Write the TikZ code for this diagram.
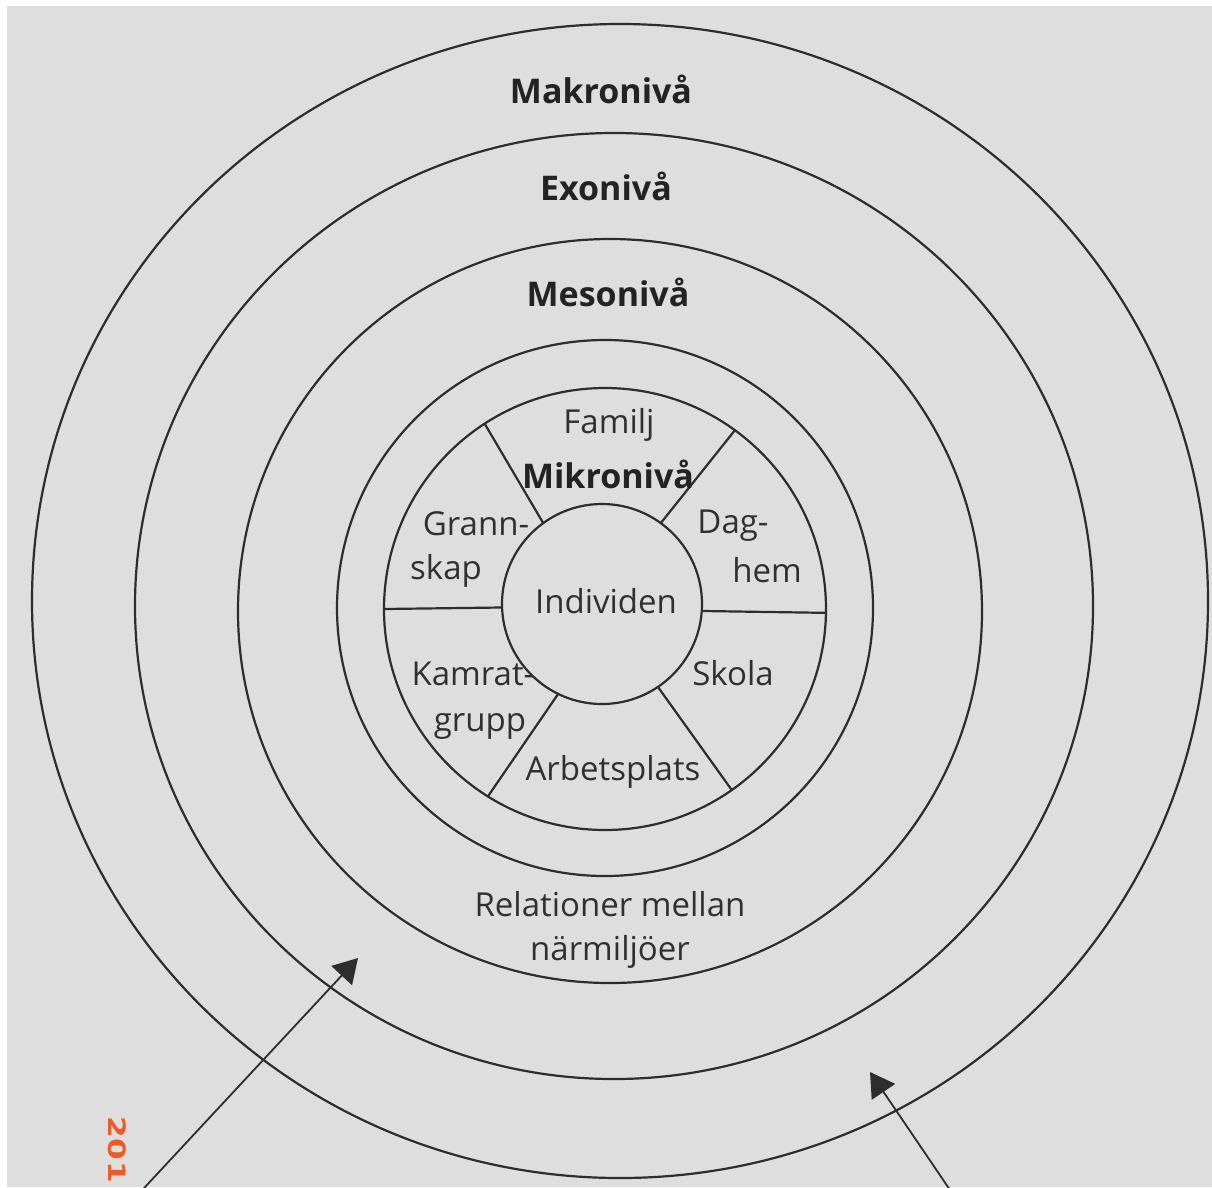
\documentclass[tikz,border=0pt]{standalone}
\usepackage{fontspec}
\setmainfont{Open Sans}
\newfontfamily\stampfont[FakeStretch=1.3,LetterSpace=4]{DejaVu Sans}
\usetikzlibrary{shapes.geometric,arrows.meta}
\definecolor{paper}{RGB}{222,222,222}
\definecolor{ink}{RGB}{45,45,45}
\definecolor{txt}{RGB}{48,48,48}
\definecolor{boldtxt}{RGB}{35,35,35}
\definecolor{stamp}{RGB}{236,92,40}
\begin{document}
\begin{tikzpicture}[x=1pt,y=-1pt,
  ring/.style={draw=ink, line width=2.2pt, inner sep=0pt, outer sep=0pt},
  spoke/.style={draw=ink, line width=2.2pt},
  lbl/.style={text=txt, font=\fontsize{33}{38}\selectfont, inner sep=0pt, anchor=base},
  lvl/.style={text=boldtxt, font=\fontsize{34}{40}\selectfont\bfseries, inner sep=0pt, anchor=base},
  arr/.style={draw=ink, line width=1.8pt, -{Triangle[length=24pt,width=28pt]}}]
\useasboundingbox (0,0) rectangle (1212,1187);
\fill[paper] (0,0) rectangle (1212,1187);
\fill[white] (0,0) rectangle (7,1187);
\fill[white] (0,0) rectangle (1212,6);

% rings
\node[ring, ellipse, minimum width=1176pt, minimum height=1154pt] (makro) at (620,601) {};
\node[ring, ellipse, minimum width=958pt, minimum height=946pt] (exo) at (614,606) {};
\node[ring, circle, minimum size=744pt] (meso) at (610,611) {};
\node[ring, circle, minimum size=536pt] (rel) at (605,608) {};
\node[ring, circle, minimum size=442pt] (mikro) at (605,609) {};
\node[ring, circle, minimum size=200pt] (ind) at (602,604) {};

% spokes
\draw[spoke] (ind.356) -- (mikro.359.3);
\draw[spoke] (ind.54) -- (mikro.54.4);
\draw[spoke] (ind.126.5) -- (mikro.123.5);
\draw[spoke] (ind.182.5) -- (mikro.180);
\draw[spoke] (ind.244) -- (mikro.238.3);
\draw[spoke] (ind.304.3) -- (mikro.305.6);

% level labels
\node[lvl] (tmakro) at (601,103) {Makronivå};
\node[lvl] (texo) at (606,200) {Exonivå};
\node[lvl] (tmeso) at (608,306) {Mesonivå};
\node[lvl] (tmikro) at (608,488) {Mikronivå};

% micro labels
\node[lbl] (tfam) at (609,433) {Familj};
\node[lbl] (tgr1) at (476,535) {Grann-};
\node[lbl] (tgr2) at (446,579) {skap};
\node[lbl] (tdag1) at (733,533) {Dag-};
\node[lbl] (tdag2) at (767,582) {hem};
\node[lbl] (tind) at (606,613) {Individen};
\node[lbl] (tkam1) at (473,685) {Kamrat-};
\node[lbl] (tkam2) at (480,731) {grupp};
\node[lbl] (tsko) at (733,685) {Skola};
\node[lbl] (tarb) at (613,780) {Arbetsplats};

% relations
\node[lbl] (trel1) at (610,916) {Relationer mellan};
\node[lbl] (trel2) at (610,960) {närmiljöer};

% arrows
\coordinate (a1s) at (140.4,1192);
\coordinate (a1e) at (358,958);
\coordinate (a2s) at (951.4,1192);
\coordinate (a2e) at (870,1072);
\draw[arr] (a1s) -- (a1e);
\draw[arr] (a2s) -- (a2e);

% date stamp
\node[text=stamp, font=\stampfont\bfseries\fontsize{24}{24}\selectfont, rotate=-90, anchor=base west, inner sep=0pt] (stamp) at (108,1116) {201};
\end{tikzpicture}
\end{document}
